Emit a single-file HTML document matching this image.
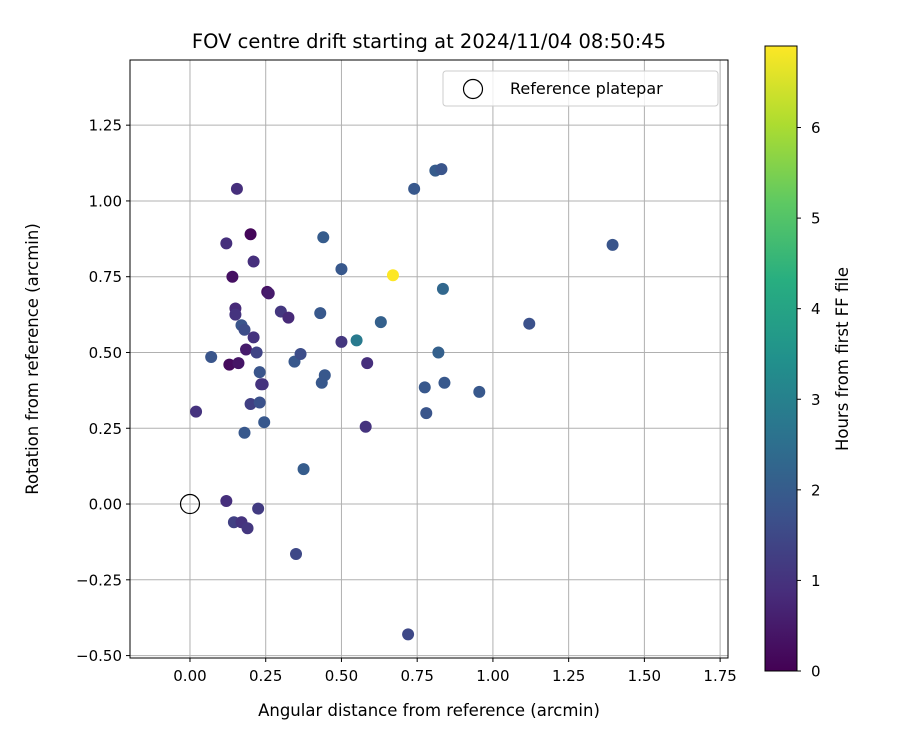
<!DOCTYPE html>
<html><head><meta charset="utf-8"><style>
body{margin:0;background:#fff;font-family:"Liberation Sans","DejaVu Sans",sans-serif}
</style></head><body>
<svg id="chart" width="900" height="750" xmlns="http://www.w3.org/2000/svg" font-family="DejaVu Sans, Liberation Sans, sans-serif">
<defs>
<linearGradient id="vir" x1="0" y1="1" x2="0" y2="0">
<stop offset="0" stop-color="#440154"/><stop offset="0.125" stop-color="#472d7b"/><stop offset="0.25" stop-color="#3b528b"/><stop offset="0.375" stop-color="#2c728e"/><stop offset="0.5" stop-color="#21918c"/><stop offset="0.625" stop-color="#28ae80"/><stop offset="0.75" stop-color="#5ec962"/><stop offset="0.875" stop-color="#addc30"/><stop offset="1" stop-color="#fde725"/>
</linearGradient>
</defs>
<g id="plot"></g>
</svg>
<script>
const xs=[0.02,0.07,0.12,0.12,0.13,0.14,0.15,0.15,0.155,0.16,0.145,0.17,0.17,0.18,0.185,0.18,0.19,0.20,0.20,0.21,0.21,0.22,0.225,0.23,0.23,0.235,0.24,0.245,0.255,0.26,0.30,0.325,0.345,0.35,0.365,0.375,0.43,0.435,0.44,0.445,0.50,0.50,0.55,0.58,0.585,0.63,0.67,0.72,0.74,0.775,0.78,0.81,0.82,0.83,0.835,0.84,0.955,1.12,1.395];
const ys=[0.305,0.485,0.86,0.01,0.46,0.75,0.645,0.625,1.04,0.465,-0.06,-0.06,0.59,0.575,0.51,0.235,-0.08,0.89,0.33,0.55,0.80,0.50,-0.015,0.335,0.435,0.395,0.395,0.27,0.70,0.695,0.635,0.615,0.47,-0.165,0.495,0.115,0.63,0.40,0.88,0.425,0.775,0.535,0.54,0.255,0.465,0.60,0.755,-0.43,1.04,0.385,0.30,1.10,0.50,1.105,0.71,0.40,0.37,0.595,0.855];
const hours=[1.0,1.8,0.9,0.9,0.2,0.3,0.8,1.0,0.9,0.4,1.3,1.0,1.8,1.6,0.5,1.9,1.1,0.1,1.3,1.0,0.9,1.4,1.2,1.7,1.8,1.0,1.0,1.9,0.3,0.5,1.1,0.8,1.9,1.5,1.6,2.0,1.9,1.9,2.0,1.9,1.9,1.1,2.8,1.0,0.9,2.1,6.9,1.5,1.9,1.9,1.8,2.0,2.1,1.8,2.3,1.9,1.9,1.7,1.8];
const xTicks=[0,0.25,0.5,0.75,1.0,1.25,1.5,1.75];
const yTicks=[-0.5,-0.25,0,0.25,0.5,0.75,1.0,1.25];
const cTicks=[0,1,2,3,4,5,6];
const L=130,R=728,T=60,B=658;
const x0=-0.198,x1=1.776,y0=-0.508,y1=1.465,hmax=6.9;
const sx=v=>L+(v-x0)/(x1-x0)*(R-L);
const sy=v=>B-(v-y0)/(y1-y0)*(B-T);
const cT=46,cB=671;
const sc=v=>cB-v/hmax*(cB-cT);
const stops=[[68,1,84],[71,45,123],[59,82,139],[44,114,142],[33,145,140],[40,174,128],[94,201,98],[173,220,48],[253,231,37]];
function vir(t){t=Math.max(0,Math.min(1,t))*8;const i=Math.min(7,Math.floor(t)),f=t-i;const a=stops[i],b=stops[i+1];return `rgb(${a.map((c,k)=>Math.round(c+(b[k]-c)*f)).join(',')})`;}
const g=document.getElementById('plot');const NS='http://www.w3.org/2000/svg';
function el(tag,attrs,txt){const e=document.createElementNS(NS,tag);for(const k in attrs)e.setAttribute(k,attrs[k]);if(txt!==undefined)e.textContent=txt;g.appendChild(e);return e;}
xTicks.forEach(t=>{const x=sx(t);
const ln=el('line',{x1:x,x2:x,y1:T,y2:B,stroke:'#b0b0b0','stroke-width':1});


el('line',{x1:x,x2:x,y1:B,y2:B+4,stroke:'#000'});
const tx=el('text',{x:x,y:B+23,'font-size':15,'text-anchor':'middle'},t.toFixed(2));

});
yTicks.forEach(t=>{const y=sy(t);
const ln=el('line',{x1:L,x2:R,y1:y,y2:y,stroke:'#b0b0b0','stroke-width':1});


el('line',{x1:L-4,x2:L,y1:y,y2:y,stroke:'#000'});
const tx=el('text',{x:L-8,y:y+5.5,'font-size':15,'text-anchor':'end'},t.toFixed(2).replace('-','−'));

});
xs.forEach((v,i)=>{const c=el('circle',{cx:sx(v),cy:sy(ys[i]),r:6,fill:vir(hours[i]/hmax)});

});
const ref=el('circle',{cx:sx(0),cy:sy(0),r:9.5,fill:'none',stroke:'#000','stroke-width':1.2});


const fr=el('rect',{x:L,y:T,width:R-L,height:B-T,fill:'none',stroke:'#000','stroke-width':1});


const lg=el('rect',{x:443,y:71,width:275,height:35,rx:3,fill:'#fff','fill-opacity':0.8,stroke:'#ccc'});


el('circle',{cx:473,cy:89,r:9.5,fill:'none',stroke:'#000','stroke-width':1.2});
const lt=el('text',{x:510,y:94,'font-size':16},'Reference platepar');


const ti=el('text',{x:429,y:48,'font-size':19.5,'text-anchor':'middle'},'FOV centre drift starting at 2024/11/04 08:50:45');


const xt=el('text',{x:429,y:716,'font-size':16.5,'text-anchor':'middle'},'Angular distance from reference (arcmin)');


const yt=el('text',{x:0,y:0,'font-size':16.5,'text-anchor':'middle',transform:'translate(38,359) rotate(-90)'},'Rotation from reference (arcmin)');


const cb=el('rect',{x:765,y:cT,width:32,height:cB-cT,fill:'url(#vir)',stroke:'#000','stroke-width':1});


cTicks.forEach(t=>{const y=sc(t);el('line',{x1:797,x2:801,y1:y,y2:y,stroke:'#000'});
const tx=el('text',{x:811,y:y+5.5,'font-size':15},String(t));

});
const ct=el('text',{x:0,y:0,'font-size':16.5,'text-anchor':'middle',transform:'translate(848,359) rotate(-90)'},'Hours from first FF file');


</script>
</body></html>
